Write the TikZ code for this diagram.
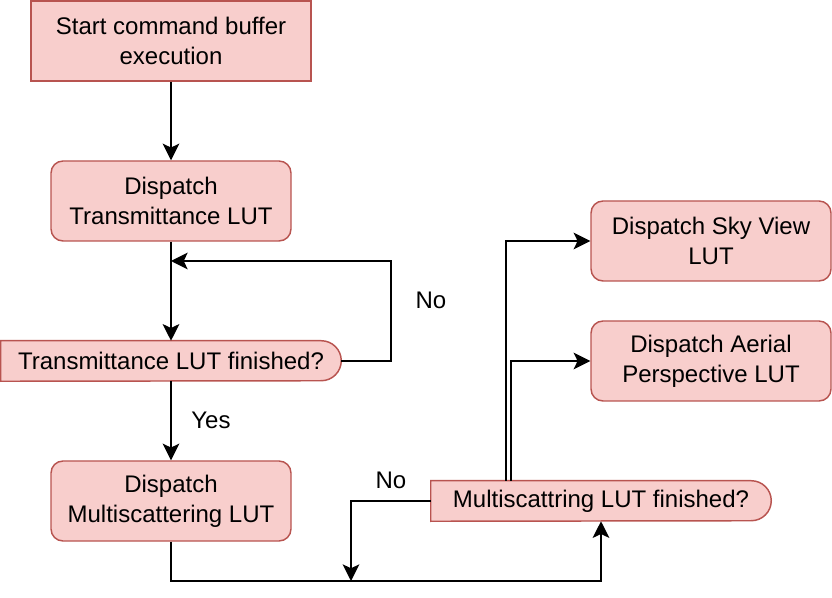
\documentclass[tikz,border=0pt]{standalone}
\usepackage{fontspec}
\setmainfont{Liberation Sans}
\usetikzlibrary{arrows.meta,calc}
\definecolor{boxfill}{HTML}{F8CECC}
\definecolor{boxline}{HTML}{B85450}
\begin{document}
\begin{tikzpicture}[x=0.75pt,y=-0.75pt,
  every node/.style={font=\fontsize{18}{22.5}\selectfont, align=center, inner sep=0pt},
  sqbox/.style={draw=boxline, fill=boxfill, line width=1.1pt, minimum width=210pt, minimum height=60pt},
  rbox/.style={draw=boxline, fill=boxfill, line width=1.1pt, rounded corners=9pt, minimum width=180pt, minimum height=60pt},
  decframe/.style={minimum height=30pt},
  decshape/.style={draw=boxline, fill=boxfill, line width=1.1pt},
  conn/.style={line width=1.5pt, -{Stealth[length=12.5pt,width=12.5pt,inset=3pt]}},
  lbl/.style={font=\fontsize{18}{22.5}\selectfont}
]
\useasboundingbox (0,0) rectangle (832,598);

% boxes
\node[sqbox] (start) at (171,41) {Start command buffer\\execution};
\node[rbox] (dt) at (171,201) {Dispatch\\Transmittance LUT};
\node[rbox] (dm) at (171,501) {Dispatch\\Multiscattering LUT};
\node[rbox] (sky) at (711,241) {Dispatch Sky View\\LUT};
\node[rbox] (aer) at (711,361) {Dispatch Aerial\\Perspective LUT};

% decision 1
\node[decframe, minimum width=255pt] (d1) at (171,361) {};
\path[decshape] (d1.north west) -- ([xshift=-15pt]d1.north east)
  arc[start angle=90, end angle=-90, radius=15pt] -- (d1.south west) -- cycle;
\node at (d1.center) {Transmittance LUT finished?};

% decision 2
\node[decframe, minimum width=255pt] (d2) at (601,501) {};
\path[decshape] (d2.north west) -- ([xshift=-15pt]d2.north east)
  arc[start angle=90, end angle=-90, radius=15pt] -- (d2.south west) -- cycle;
\node at (d2.center) {Multiscattring LUT finished?};

% helper coordinates
\coordinate (loop1) at (171,261);
\coordinate (r1) at (391,361);
\coordinate (j) at (351,581);
\coordinate (b1) at (171,581);
\coordinate (b2) at (601,581);

% connectors
\draw[conn] (start.south) -- (dt.north);
\draw[conn] (dt.south) -- (d1.north);
\draw[conn] (d1.east) -- (r1) |- (loop1);
\draw[conn] (d1.south) -- (dm.north);
\draw[conn] (dm.south) -- (b1) -- (b2) -- (d2.south);
\draw[conn] (d2.west) -| (j);
\draw[conn] ([xshift=56.25pt]d2.north west) |- (sky.west);
\draw[conn] ([xshift=60pt]d2.north west) |- (aer.west);

% labels
\node[lbl] (no1) at (431,300) {No};
\node[lbl] (yes) at (211,420) {Yes};
\node[lbl] (no2) at (391,480) {No};
\end{tikzpicture}
\end{document}
